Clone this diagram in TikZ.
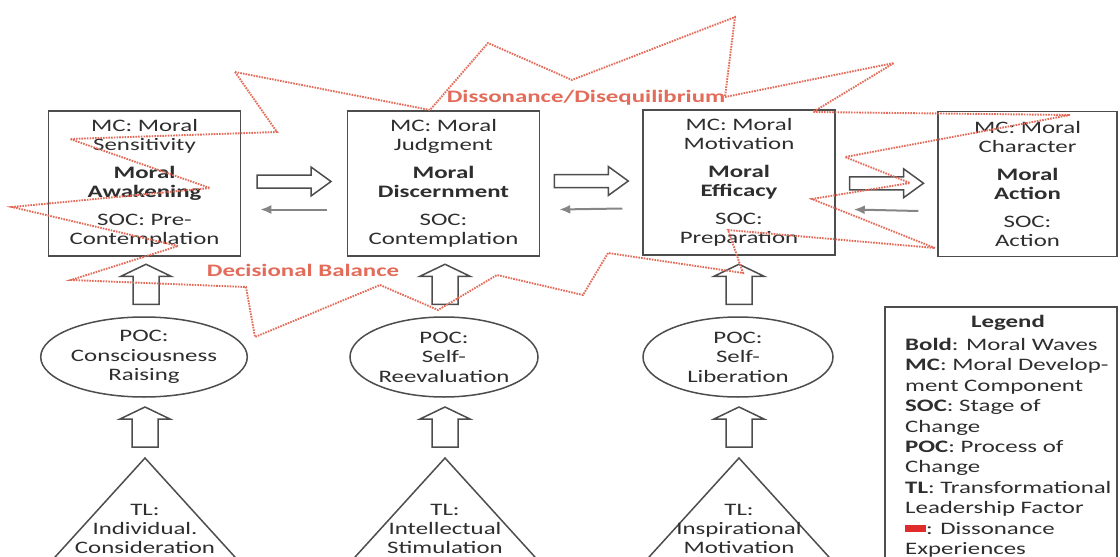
\documentclass[tikz,border=0pt]{standalone}
\usepackage{fontspec}
\setmainfont{Carlito}[FakeStretch=1.42]
\usepackage{tikz}
\usetikzlibrary{shapes.geometric,arrows.meta,calc}

\definecolor{boxgray}{HTML}{4D4D4D}
\definecolor{txtgray}{HTML}{2E2E2E}
\definecolor{dissred}{HTML}{E36B5A}
\definecolor{legred}{HTML}{E02B2B}
\definecolor{thingray}{HTML}{858585}

\newcommand\wavefont{\fontsize{17.5pt}{18.5pt}\selectfont}

\tikzset{
  stagebox/.style={draw=boxgray, line width=1.5pt, minimum width=192pt, minimum height=145pt, inner sep=0pt, align=center},
  pocell/.style={draw=boxgray, line width=1.5pt, ellipse, minimum width=188pt, minimum height=80pt, inner sep=0pt, align=center, font=\fontsize{17.5pt}{19.5pt}\selectfont},
  tllabel/.style={align=center, font=\fontsize{17.5pt}{19pt}\selectfont},
  fatline/.style={draw=boxgray, line width=1.5pt, fill=white},
  backarr/.style={draw=thingray, line width=2pt, -{Latex[length=11pt,width=9pt]}},
  dissline/.style={draw=dissred, line width=1.9pt, dash pattern=on 1.6pt off 1.1pt},
  disslabel/.style={text=dissred, font=\wavefont\bfseries},
  rightfat/.pic={\path[fatline] (0,-6.5) -- (54,-6.5) -- (54,-14.5) -- (74,0) -- (54,14.5) -- (54,6.5) -- (0,6.5) -- cycle;},
  upfat/.pic={\path[fatline] (-13,0) -- (-13,-28) -- (-25,-28) -- (0,-40) -- (25,-28) -- (13,-28) -- (13,0) -- cycle;},
}

\begin{document}
\begin{tikzpicture}[x=1pt, y=-1pt, every node/.style={font=\wavefont, text=txtgray}]

    \useasboundingbox (0,0) rectangle (1120,557);

    % stages
    \node[stagebox] (aw) at (144.5,183.5) {MC: Moral\\Sensitivity\\[10pt]\textbf{Moral}\\\textbf{Awakening}\\[10pt]SOC: Pre-\\Contemplation};
    \node[stagebox] (di) at (443.5,183.5) {MC: Moral\\Judgment\\[10pt]\textbf{Moral}\\\textbf{Discernment}\\[10pt]SOC:\\Contemplation};
    \node[stagebox] (ef) at (739,182.5) {MC: Moral\\Motivation\\[10pt]\textbf{Moral}\\\textbf{Efficacy}\\[10pt]SOC:\\Preparation};
    \node[stagebox, minimum width=179pt] (ac) at (1027.5,184) {MC: Moral\\Character\\[10pt]\textbf{Moral}\\\textbf{Action}\\[10pt]SOC:\\Action};

    \pic at ($(aw.east)!0.5!(di.west)+(-37,-2)$) {rightfat};
    \pic at ($(di.east)!0.5!(ef.west)+(-37,-2)$) {rightfat};
    \pic at ($(ef.east)!0.5!(ac.west)+(-37,0)$) {rightfat};

    \draw[backarr] ($(di.west)+(-20,26)$) -- ($(aw.east)+(19,26)$);
    \draw[backarr] ($(ef.west)+(-20,26)$) -- ($(di.east)+(19,26)$);
    \draw[backarr] ($(ac.west)+(-19,27)$) -- ($(ef.east)+(18,27)$);

    % processes of change
    \node[pocell] (cr) at (144,357) {POC:\\Consciousness\\Raising};
    \node[pocell] (sr) at (444,357) {POC:\\Self-\\Reevaluation};
    \node[pocell, minimum width=190pt] (sl) at (738,357) {POC:\\Self-\\Liberation};

    \pic at ($(cr.north)+(2,-12)$) {upfat};
    \pic at ($(sr.north)+(1,-12)$) {upfat};
    \pic at ($(sl.north)+(1,-12)$) {upfat};

    % leadership factors
    \coordinate (ictop) at (145,458);
    \coordinate (istop) at (445,458);
    \coordinate (imtop) at (739,458);
    \begin{scope}
      \clip (0,0) rectangle (1120,557);
      \foreach \apex in {ictop,istop,imtop}
        \draw[boxgray, line width=1.5pt] (\apex) -- ++(-129,142) -- ++(258,0) -- cycle;
      \draw[boxgray, line width=1.5pt] (885,307) rectangle (1117,580);
    \end{scope}
    \pic at ($(ictop)+(0,-11)$) {upfat};
    \pic at ($(istop)+(0,-11)$) {upfat};
    \pic at ($(imtop)+(0,-11)$) {upfat};

    \node[tllabel] (ic) at (145,529) {TL:\\Individual.\\Consideration};
    \node[tllabel] (is) at (445,529) {TL:\\Intellectual\\Stimulation};
    \node[tllabel] (im) at (739,529) {TL:\\Inspirational\\Motivation};

    % legend
    \node[font=\wavefont\bfseries] (leghd) at (1008,323) {Legend};
    \node[anchor=north west, inner sep=0pt, align=left, font=\fontsize{17.5pt}{20.4pt}\selectfont] (legtxt) at (905,338) {\textbf{Bold}: Moral Waves\\
      \textbf{MC}: Moral Develop-\\
      ment Component\\
      \textbf{SOC}: Stage of\\
      Change\\
      \textbf{POC}: Process of\\
      Change\\
      \textbf{TL}: Transformational\\
      Leadership Factor\\
      {\color{legred}\rule[2pt]{21pt}{7pt}}: Dissonance\\
      Experiences};

    % dissonance experiences
    \draw[dissline] (235,72) -- (277,132) -- (70,139) -- (210,188) -- (12,207) -- (178,246)
      -- (71,280) -- (246,287) -- (255,337) -- (380,285) -- (438,310) -- (497,275)
      -- (583,295) -- (608,253) -- (743,273) -- (728,230) -- (935,248) -- (812,199)
      -- (910,183) -- (845,157) -- (1070,115) -- (813,112) -- (894,63) -- (725,97)
      -- (735,17) -- (572,80) -- (488,43) -- (430,110) -- cycle;

    \node[disslabel] (dissl) at (586,98) {Dissonance/Disequilibrium};
    \node[disslabel] (decil) at (303,270) {Decisional Balance};

\end{tikzpicture}
\end{document}
